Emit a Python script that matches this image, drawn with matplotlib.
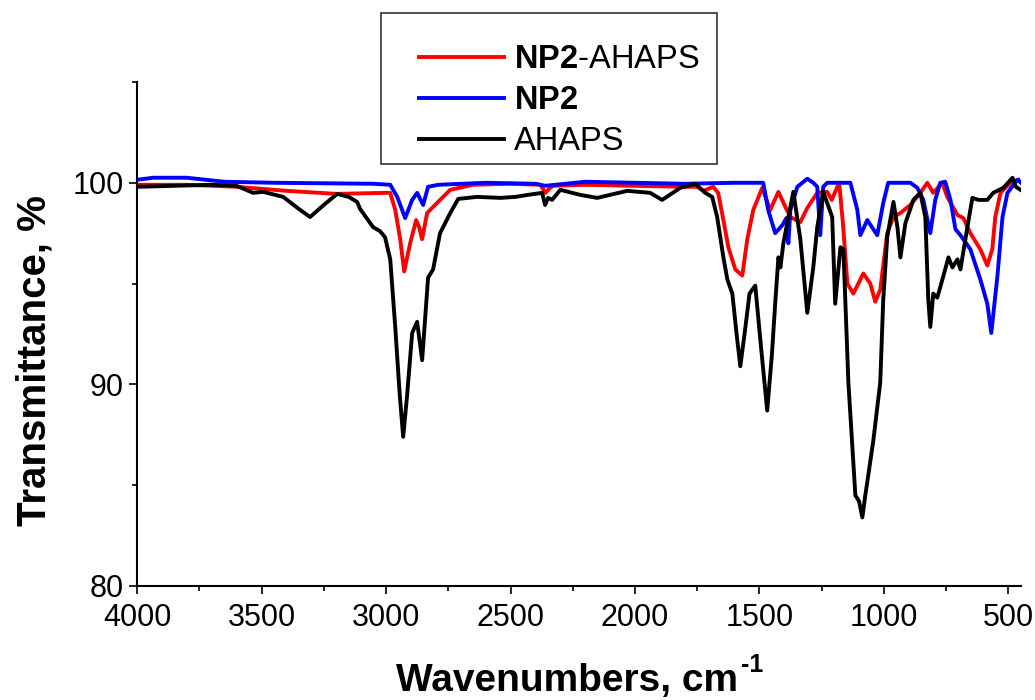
import matplotlib
matplotlib.use("Agg")
import matplotlib.pyplot as plt
from matplotlib.patches import Rectangle
from matplotlib.ticker import MultipleLocator

plt.rcParams['font.family'] = ['Liberation Sans', 'DejaVu Sans']
plt.rcParams['mathtext.fontset'] = 'custom'
plt.rcParams['mathtext.rm'] = 'Liberation Sans'
plt.rcParams['mathtext.bf'] = 'Liberation Sans:bold'

# AHAPS (black)
wn_ahaps = [4000, 3850, 3700, 3600, 3534, 3494, 3413, 3350, 3305, 3250, 3196, 3150, 3116, 3104,
            3052, 3024, 3004, 2983, 2963, 2945, 2931, 2915, 2895, 2875, 2855, 2831, 2811, 2783,
            2742, 2710, 2634, 2541, 2480, 2430, 2373, 2361, 2349, 2333, 2300, 2220, 2152, 2031,
            1939, 1891, 1818, 1758, 1718, 1690, 1670, 1645, 1629, 1609, 1592, 1577, 1560, 1540,
            1517, 1495, 1469, 1450, 1437, 1424, 1416, 1404, 1384, 1364, 1336, 1308, 1284, 1268,
            1244, 1208, 1196, 1175, 1163, 1143, 1130, 1115, 1100, 1087, 1075, 1063, 1043, 1015,
            1003, 987, 962, 946, 934, 914, 882, 854, 834, 822, 814, 802, 786, 762, 741, 725,
            705, 693, 665, 645, 621, 585, 561, 520, 484, 470, 452]
t_ahaps = [99.8, 99.85, 99.9, 99.85, 99.5, 99.55, 99.3, 98.7, 98.3, 98.9, 99.45, 99.3, 99.05, 98.7,
           97.8, 97.6, 97.3, 96.2, 92.85, 89.5, 87.4, 89.5, 92.55, 93.1, 91.2, 95.3, 95.7, 97.5,
           98.5, 99.2, 99.3, 99.25, 99.3, 99.4, 99.5, 98.9, 99.25, 99.15, 99.65, 99.4, 99.25, 99.6,
           99.5, 99.15, 99.75, 99.95, 99.5, 99.3, 98.3, 96.3, 95.2, 94.5, 92.5, 90.9, 92.5, 94.5,
           94.9, 92.0, 88.7, 91.5, 94.0, 96.3, 95.8, 97.0, 98.3, 99.55, 97.2, 93.55, 95.8, 97.8,
           99.55, 98.3, 94.0, 96.8, 96.7, 90.1, 87.5, 84.5, 84.2, 83.4, 84.5, 85.5, 87.2, 90.1,
           94.2, 97.3, 99.05, 97.8, 96.3, 98.0, 99.15, 99.5, 98.3, 94.2, 92.85, 94.5, 94.3, 95.35, 96.3, 95.8,
           96.2, 95.7, 97.8, 99.25, 99.15, 99.15, 99.5, 99.75, 100.25, 99.8, 99.65]

# NP2-AHAPS (red)
wn_np2_ahaps = [4000, 3800, 3600, 3400, 3200, 3000, 2983, 2963, 2943, 2927, 2915, 2903, 2879, 2867,
                2855, 2835, 2795, 2742, 2650, 2500, 2380, 2360, 2345, 2330, 2200, 2000, 1800, 1750,
                1725, 1686, 1666, 1645, 1625, 1597, 1569, 1549, 1525, 1489, 1457, 1424, 1396, 1376,
                1336, 1308, 1268, 1228, 1210, 1180, 1165, 1147, 1123, 1083, 1055, 1035, 1015, 987,
                962, 934, 894, 854, 826, 802, 766, 746, 705, 681, 653, 613, 585, 565, 553, 532,
                492, 460]
t_np2_ahaps = [99.9, 99.9, 99.8, 99.6, 99.45, 99.5, 99.5, 98.65, 97.2, 95.6, 96.3, 97.0, 98.15, 97.8,
               97.2, 98.5, 99.0, 99.65, 99.9, 99.95, 99.9, 99.5, 99.7, 99.85, 99.9, 99.85, 99.8, 99.8,
               99.6, 99.8, 99.5, 98.15, 96.8, 95.7, 95.4, 97.2, 98.65, 99.75, 98.65, 99.55, 98.8, 98.3,
               98.05, 98.75, 99.5, 99.55, 99.15, 100.0, 98.0, 95.0, 94.5, 95.5, 95.0, 94.1, 94.7, 97.5,
               98.3, 98.5, 98.9, 99.5, 100.0, 99.5, 100.0, 99.3, 98.4, 98.25, 97.5, 96.7, 95.9, 96.7, 98.3, 99.5,
               100.0, 100.15]

# NP2 (blue)
wn_np2 = [4000, 3935, 3800, 3650, 3450, 3050, 2983, 2955, 2923, 2895, 2875, 2851, 2831, 2790,
          2600, 2400, 2360, 2200, 2000, 1800, 1600, 1485, 1465, 1437, 1408, 1392, 1384, 1376,
          1348, 1308, 1284, 1268, 1256, 1244, 1228, 1135, 1107, 1095, 1067, 1027, 1003, 983,
          894, 866, 842, 814, 794, 774, 754, 733, 713, 693, 653, 613, 585, 569, 545, 524,
          504, 464, 450]
t_np2 = [100.15, 100.25, 100.25, 100.05, 100.0, 99.95, 99.9, 99.3, 98.25, 99.15, 99.5, 98.9, 99.8, 99.9,
         100.0, 99.95, 99.85, 100.05, 100.0, 99.95, 100.0, 100.0, 98.65, 97.5, 97.9, 98.25, 97.0, 98.65,
         99.8, 100.2, 100.0, 99.8, 97.4, 99.8, 100.0, 100.0, 98.65, 97.4, 98.15, 97.4, 99.0, 100.0,
         100.0, 99.75, 99.15, 97.5, 99.15, 100.0, 100.05, 99.15, 97.7, 97.4, 96.7, 95.2, 94.0, 92.55, 95.3, 98.3,
         99.5, 100.15, 100.0]

labels = [r"$\mathbf{NP2}$-AHAPS", r"$\mathbf{NP2}$", "AHAPS"]

W, H = 1035, 700
fig = plt.figure(figsize=(W / 100, H / 100), dpi=100)
ax = fig.add_axes([0.1324, 0.1629, 0.854, 0.72])

ax.plot(wn_np2_ahaps, t_np2_ahaps, color='#ff0000', lw=2.8, label=labels[0])
ax.plot(wn_np2, t_np2, color='#0000ff', lw=2.8, label=labels[1])
ax.plot(wn_ahaps, t_ahaps, color='black', lw=2.8, label=labels[2])

ax.set_xlim(4000, 450)
ax.set_ylim(80, 105)
ax.xaxis.set_major_locator(MultipleLocator(500))
ax.xaxis.set_minor_locator(MultipleLocator(250))
ax.set_yticks([80, 90, 100])
ax.set_yticks([85, 95, 105], minor=True)

for s in ['top', 'right']:
    ax.spines[s].set_visible(False)
for s in ['left', 'bottom']:
    ax.spines[s].set_linewidth(1.5)

ax.tick_params(which='major', direction='out', length=6, width=1.2, labelsize=22)
ax.tick_params(axis='x', which='major', pad=6)
ax.tick_params(which='minor', direction='out', length=3.5, width=1.2)

ax.set_xlabel("Wavenumbers, cm", fontsize=28, fontweight='bold', labelpad=22)
ax.xaxis.label.set_x(0.486)
ax.set_ylabel("Transmittance, %", fontsize=29, fontweight='bold', labelpad=14)
ax.yaxis.label.set_y(0.448)

# legend box drawn separately so its padding can follow the original
box = Rectangle((381 / W, 1 - 164 / H), 336 / W, 151 / H, transform=fig.transFigure,
                facecolor='white', edgecolor='#333333', lw=1.2, zorder=4)
fig.patches.append(box)
leg = fig.legend(loc='upper left', bbox_to_anchor=(419 / W, 1 - 44.5 / H), fontsize=23.5,
                 frameon=False, handlelength=2.6, handletextpad=0.3, labelspacing=0.3,
                 borderpad=0, borderaxespad=0)
leg.set_zorder(5)
for line in leg.get_lines():
    line.set_linewidth(2.8)

# superscript "-1" after the x label, with a short hyphen as in the original
fig.canvas.draw()
bb = ax.xaxis.label.get_window_extent()
fig.text((bb.x1 + 3) / W, (bb.y1 - 14) / H, "-1",
         fontsize=18, fontweight='bold', va='bottom', ha='left')

fig.savefig("out.png", dpi=100)
